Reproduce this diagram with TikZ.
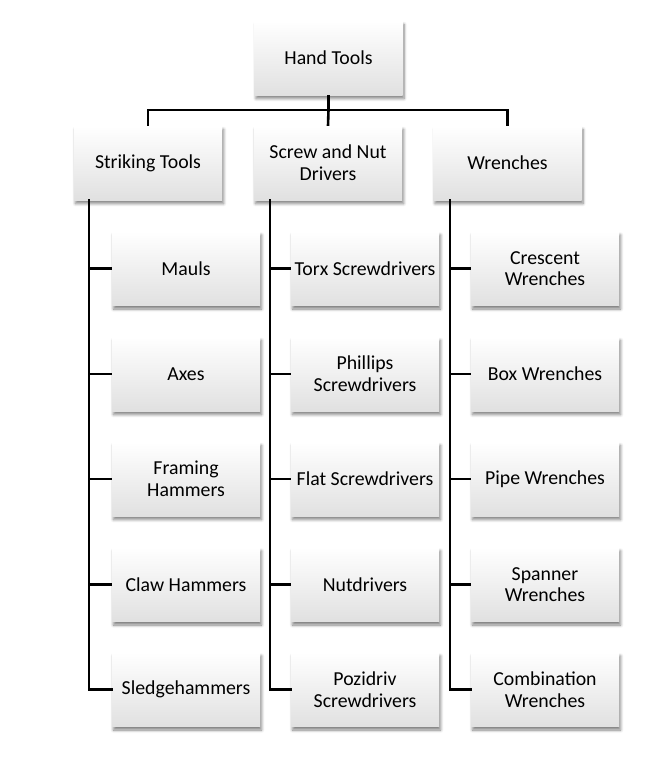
\documentclass[tikz,border=0pt]{standalone}
\usepackage{fontspec}
\setmainfont{Carlito}
\usetikzlibrary{shadows.blur}
\begin{document}
\begin{tikzpicture}[x=1pt,y=-1pt,
  tbox/.style={rectangle, minimum width=148pt, minimum height=74pt, inner sep=0pt,
    align=center, top color=white, bottom color=black!12, draw=none,
    font=\fontsize{19.8}{21.7}\selectfont,
    blur shadow={shadow xshift=1.5pt, shadow yshift=-3.5pt, shadow blur steps=6, shadow opacity=50, shadow blur radius=3pt}},
  conn/.style={line width=2.6pt, draw=black}]
\useasboundingbox (0,0) rectangle (647,760);
\node[tbox] (ht) at (328.5,58) {Hand Tools};
\node[tbox] (st) at (148,163) {Striking Tools};
\node[tbox] (sn) at (328,163) {Screw and Nut\\Drivers};
\node[tbox] (wr) at (507.5,163) {Wrenches};
% striking tools children
\node[tbox] (s1) at (186,268.5) {Mauls};
\node[tbox] (s2) at (186,374) {Axes};
\node[tbox] (s3) at (186,479) {Framing\\Hammers};
\node[tbox] (s4) at (186,584.5) {Claw Hammers};
\node[tbox] (s5) at (186,689.5) {Sledgehammers};
% screw drivers children
\node[tbox] (d1) at (365,268.5) {Torx Screwdrivers};
\node[tbox] (d2) at (365,374) {Phillips\\Screwdrivers};
\node[tbox] (d3) at (365,479) {Flat Screwdrivers};
\node[tbox] (d4) at (365,584.5) {Nutdrivers};
\node[tbox] (d5) at (365,689.5) {Pozidriv\\Screwdrivers};
% wrenches children
\node[tbox] (w1) at (545,268.5) {Crescent\\Wrenches};
\node[tbox] (w2) at (545,374) {Box Wrenches};
\node[tbox] (w3) at (545,479) {Pipe Wrenches};
\node[tbox] (w4) at (545,584.5) {Spanner\\Wrenches};
\node[tbox] (w5) at (545,689.5) {Combination\\Wrenches};
% connectors
\coordinate (bus) at (328.5,110);
\draw[conn] (ht.south) -- (bus);
\draw[conn] (st.north) |- (bus) -| (wr.north);
\draw[conn] (bus) -- (sn.north);
\coordinate (cs) at (89,200);
\coordinate (cd) at (270,200);
\coordinate (cw) at (450,200);
\draw[conn, line cap=rect] (cs) |- (s5.west);
\draw[conn, line cap=rect] (cd) |- (d5.west);
\draw[conn, line cap=rect] (cw) |- (w5.west);
\foreach \n in {s1,s2,s3,s4}{\draw[conn] (cs |- \n.west) -- (\n.west);}
\foreach \n in {d1,d2,d3,d4}{\draw[conn] (cd |- \n.west) -- (\n.west);}
\foreach \n in {w1,w2,w3,w4}{\draw[conn] (cw |- \n.west) -- (\n.west);}
\end{tikzpicture}
\end{document}
